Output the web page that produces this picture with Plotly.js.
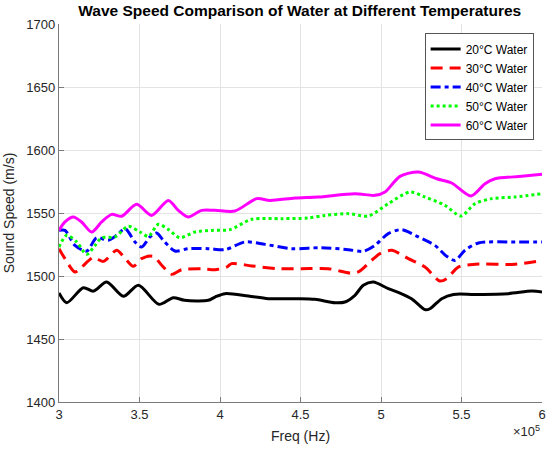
<!DOCTYPE html>
<html>
<head>
<meta charset="utf-8">
<script src="https://cdn.plot.ly/plotly-3.0.1.min.js"></script>
<style>html,body{margin:0;padding:0;background:#fff;}#chart{width:550px;height:451px;}</style>
</head>
<body>
<div id="chart"></div>
<script>
// Frequencies in units of 1e5 Hz (axis shows x10^5)
const freq20 = [3.0,3.048,3.151,3.214,3.296,3.40,3.493,3.621,3.71,3.78,3.927,3.969,4.031,4.176,4.30,4.486,4.59,4.714,4.776,4.838,4.89,4.952,5.045,5.118,5.19,5.273,5.304,5.377,5.45,5.584,5.79,5.936,6.0];
const speed20 = [1486.5,1478.8,1490.7,1488,1495.2,1483.9,1492.6,1477.5,1482.8,1480.7,1480.7,1483.3,1486,1484.1,1482,1482,1481.5,1478.8,1479.4,1484.7,1492.6,1495.2,1490,1486.5,1482,1473.3,1474,1482,1485.4,1485.4,1486,1488,1487.3];

const freq30 = [3.0,3.037,3.099,3.14,3.213,3.275,3.358,3.40,3.462,3.513,3.586,3.638,3.70,3.762,3.886,3.969,4.04,4.072,4.197,4.362,4.507,4.673,4.807,4.859,4.942,4.994,5.066,5.17,5.273,5.366,5.408,5.48,5.584,5.833,6.0];
const speed30 = [1521.7,1513.8,1503.2,1507,1514.6,1511.6,1520.4,1515.6,1507.7,1513.8,1515.6,1508.5,1501.3,1505,1505.8,1505,1507,1509.8,1508,1505.8,1505.8,1505.8,1502.4,1503.2,1512.4,1517.7,1520.4,1513.8,1507.1,1496,1497.9,1507.1,1509.3,1509.3,1512.4];

const freq40 = [3.0,3.037,3.099,3.172,3.234,3.306,3.358,3.41,3.472,3.513,3.565,3.606,3.648,3.72,3.803,3.927,4.031,4.155,4.28,4.445,4.631,4.797,4.89,4.962,5.045,5.128,5.232,5.335,5.408,5.46,5.522,5.605,5.833,6.0];
const speed40 = [1536.2,1536.2,1524.3,1519.8,1530.4,1528.3,1532.3,1537.6,1527,1523,1531,1534.1,1528.3,1519.8,1521.7,1521.7,1520.9,1527,1525.1,1521.7,1522.5,1520.9,1519.6,1524.3,1533.6,1536.8,1531,1524.3,1515.6,1512.4,1520.4,1526.2,1527,1527];

const freq50 = [3.0,3.048,3.11,3.172,3.224,3.265,3.348,3.43,3.503,3.555,3.617,3.68,3.751,3.845,3.948,4.062,4.197,4.383,4.548,4.652,4.797,4.921,5.045,5.18,5.273,5.397,5.497,5.584,5.687,5.833,6.0];
const speed50 = [1523,1532.3,1527,1517.2,1524.3,1530.4,1531,1539.4,1534.9,1531.5,1541,1536.8,1530.4,1534.9,1536.2,1536.8,1545,1545.5,1546,1548.1,1549.5,1547.6,1557.4,1566.7,1562.7,1556.1,1547.6,1557.4,1561.4,1562.7,1565.3];

const freq60 = [3.0,3.037,3.089,3.14,3.203,3.265,3.327,3.389,3.482,3.575,3.679,3.741,3.803,3.886,3.969,4.093,4.228,4.31,4.466,4.61,4.838,4.963,5.025,5.118,5.232,5.346,5.439,5.559,5.646,5.708,5.874,6.0];
const speed60 = [1536.2,1542.9,1546.8,1542.9,1534.9,1542.9,1548.9,1547.4,1556.9,1548.1,1560,1552.1,1546.8,1552.1,1552.1,1551.6,1561.4,1560,1561.9,1562.7,1565.3,1564,1566.7,1579.1,1582.5,1577.2,1573.8,1563.5,1573.3,1577.2,1579.1,1580.7];

const seriesNames = ['20°C Water','30°C Water','40°C Water','50°C Water','60°C Water'];
const xTickVals = [3,3.5,4,4.5,5,5.5,6];
const xTickText = ['3','3.5','4','4.5','5','5.5','6'];
const yTickVals = [1400,1450,1500,1550,1600,1650,1700];

const xs = [freq20,freq30,freq40,freq50,freq60];
const ys = [speed20,speed30,speed40,speed50,speed60];
const colors = ['#000000','#ff0000','#0000ff','#00ff00','#ff00ff'];
const dashes = ['solid','12px,7px','10px,4px,4px,4px','3px,3px','solid'];

const traces = xs.map((x,i)=>({
  x: x, y: ys[i], type:'scatter', mode:'lines', name: seriesNames[i],
  line:{color:colors[i], width:3, dash:dashes[i], shape:'spline', smoothing:0.8}
}));

const FF = 'Liberation Sans, Arial, sans-serif';
const axisFont = {family:FF, size:13, color:'#262626'};
const layout = {
  width:550, height:451,
  margin:{l:59, r:8, t:24, b:49, pad:0},
  paper_bgcolor:'#ffffff', plot_bgcolor:'#ffffff',
  font:{family:FF, color:'#262626'},
  title:{text:'<b>Wave Speed Comparison of Water at Different Temperatures</b>',
    font:{family:FF, size:15.5, color:'#000000'},
    x:0.545, xanchor:'center', y:0.977, yanchor:'middle'},
  xaxis:{range:[3,6], tickvals:xTickVals, ticktext:xTickText, tickfont:axisFont,
    showgrid:true, gridcolor:'#e3e3e3', gridwidth:1, zeroline:false,
    showline:true, linecolor:'#7a7a7a', linewidth:1.2, mirror:false,
    ticks:'inside', ticklen:5, tickcolor:'#7a7a7a', tickwidth:1,
    title:{text:'Freq (Hz)', font:{family:FF, size:14, color:'#262626'}, standoff:10}},
  yaxis:{range:[1400,1700], tickvals:yTickVals, tickfont:axisFont,
    showgrid:true, gridcolor:'#e3e3e3', gridwidth:1, zeroline:false,
    showline:true, linecolor:'#7a7a7a', linewidth:1.2, mirror:false,
    ticks:'inside', ticklen:5, tickcolor:'#7a7a7a', tickwidth:1,
    title:{text:'Sound Speed (m/s)', font:{family:FF, size:14, color:'#262626'}, standoff:8}},
  legend:{x:0.757, y:0.975, xanchor:'left', yanchor:'top',
    bgcolor:'#ffffff', bordercolor:'#555555', borderwidth:1,
    font:{family:FF, size:12, color:'#000000'},
    itemwidth:30, tracegroupgap:0},
  annotations:[{text:'×10<sup>5</sup>', xref:'paper', yref:'paper', x:1.0, y:-0.05,
    xanchor:'right', yanchor:'top', showarrow:false,
    font:{family:FF, size:13, color:'#262626'}}],
  showlegend:true
};

Plotly.newPlot('chart', traces, layout, {displayModeBar:false, staticPlot:true});
</script>
</body>
</html>
